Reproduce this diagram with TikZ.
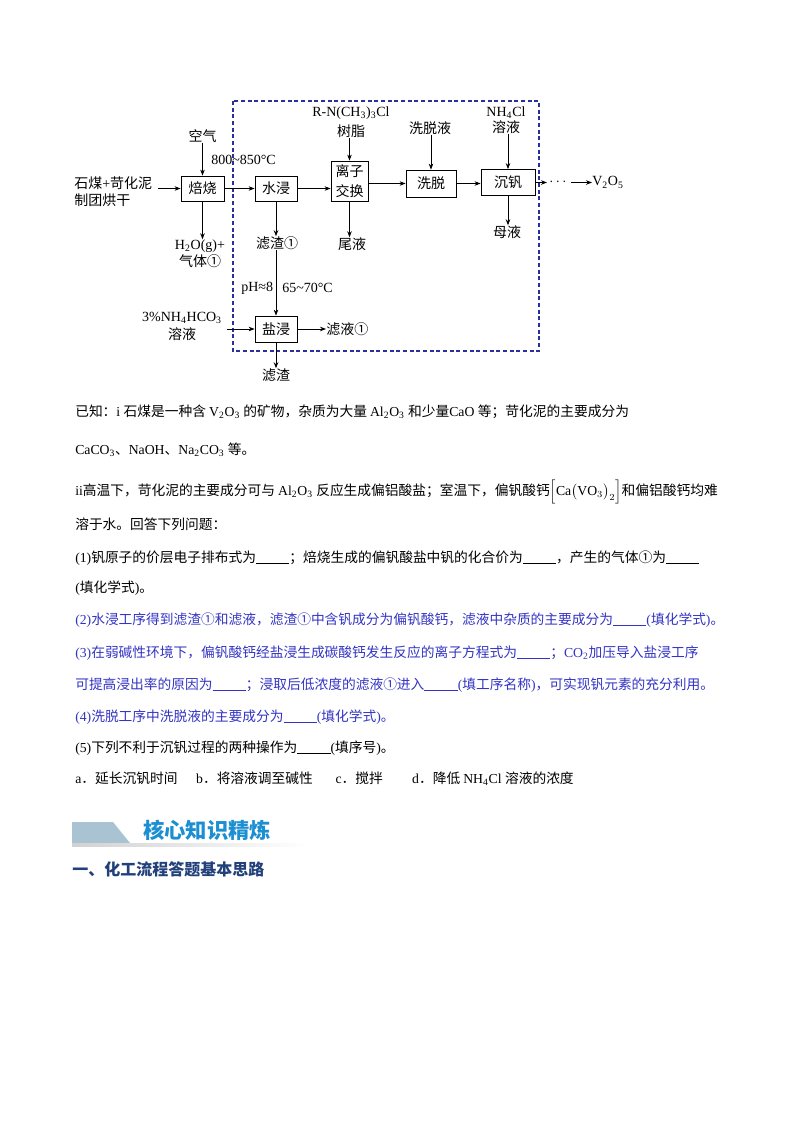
\documentclass[tikz,border=0pt]{standalone}
\usepackage{fontspec}
\setmainfont{Liberation Serif}
\setmathrm{Liberation Serif}
\newfontfamily\zhfont{Noto Sans CJK SC}
\usetikzlibrary{arrows.meta}
% automatic switch to the CJK font for CJK characters
\XeTeXinterchartokenstate=1
\newXeTeXintercharclass\zhcls
\newcount\zhc
\def\setzh#1#2{\zhc=#1\relax
  \loop
    \XeTeXcharclass\zhc=\zhcls
  \ifnum\zhc<#2\relax
    \advance\zhc by 1\relax
  \repeat}
\setzh{"3000}{"303F}
\setzh{"4E00}{"9FFF}
\setzh{"FF00}{"FFEF}
\setzh{"2460}{"24FF}
\XeTeXinterchartoks 0 \zhcls = {\zhfont}
\XeTeXinterchartoks 4095 \zhcls = {\zhfont}
\XeTeXinterchartoks \zhcls 0 = {\rmfamily}
\XeTeXinterchartoks 4095 0 = {\rmfamily}
\definecolor{dashblue}{HTML}{2A2F9C}
\definecolor{qblue}{HTML}{3434C4}
\definecolor{titleblue}{HTML}{1C8FD3}
\definecolor{navyt}{HTML}{22407A}
\definecolor{hdrgray}{HTML}{A9C3D3}
\newcommand\dg{\fontsize{10.5}{12.75}\selectfont}
\newcommand\bd{\fontsize{10.3}{12.4}\selectfont}
\newcommand\blk{\rule[-1.5pt]{25pt}{0.5pt}}
\tikzset{
  box/.style={draw, line width=0.6pt, inner sep=0pt, font=\dg, align=center},
  lbl/.style={inner sep=0pt, font=\dg, align=center},
  arr/.style={line width=0.6pt, -{Stealth[length=4.5pt,width=3.4pt]}},
  dashbox/.style={draw=dashblue, line width=0.9pt, dash pattern=on 3pt off 2pt},
  txt/.style={anchor=base west, inner sep=0pt, font=\bd},
}
\begin{document}
\begin{tikzpicture}[x=0.75pt,y=-0.75pt]
\useasboundingbox[fill=white] (0,0) rectangle (794,1122);

% ---------- flow diagram ----------
\draw[dashbox] (233,101) rectangle (539,351);

\node[lbl, align=left, anchor=west] (raw) at (74,191.5) {石煤+苛化泥\\制团烘干};
\node[box, minimum width=32.25pt, minimum height=18.75pt] (bs) at (202.5,188.5) {焙烧};
\node[lbl] (air) at (202.5,136) {空气};
\node[lbl, anchor=west] (t1) at (211,160) {800\textasciitilde850°C};
\node[lbl] (gas) at (200,253.5) {H\textsubscript{2}O(g)+\\气体①};
\draw[arr] ([xshift=4pt]raw.east |- bs.west) -- (bs.west);
\draw[arr] (air.south -| bs.north) -- (bs.north);
\draw[arr] (bs.south) -- (bs.south |- gas.north);

\node[box, minimum width=31.5pt, minimum height=18.75pt] (sj) at (276,188.5) {水浸};
\node[lbl] (zz1) at (277,243) {滤渣①};
\draw[arr] (bs.east) -- (sj.west);
\draw[arr] (sj.south) -- (sj.south |- zz1.north);

\node[box, minimum width=27.75pt, minimum height=30pt, font=\fontsize{10.5}{15}\selectfont] (lz) at (349.5,181) {离子\\交换};
\node[lbl, font=\fontsize{10.5}{15}\selectfont] (resin) at (351,122) {R-N(CH\textsubscript{3})\textsubscript{3}Cl\\树脂};
\node[lbl] (wy) at (352,244) {尾液};
\draw[arr] (sj.east) -- (sj.east -| lz.west);
\draw[arr] (resin.south -| lz.north) -- (lz.north);
\draw[arr] (lz.south) -- (lz.south |- wy.north);

\node[box, minimum width=37.5pt, minimum height=20.25pt] (xt) at (431,183.5) {洗脱};
\node[lbl] (xtl) at (430,128) {洗脱液};
\draw[arr] (lz.east |- xt.west) -- (xt.west);
\draw[arr] (xtl.south -| xt.north) -- (xt.north);

\node[box, minimum width=40.5pt, minimum height=19.5pt] (cf) at (508,182.5) {沉钒};
\node[lbl, font=\fontsize{10.5}{12}\selectfont] (nh4) at (506,120) {NH\textsubscript{4}Cl\\溶液};
\node[lbl] (my) at (507,232) {母液};
\draw[arr] (xt.east) -- (xt.east -| cf.west);
\draw[arr] (nh4.south -| cf.north) -- (cf.north);
\draw[arr] (cf.south) -- (cf.south |- my.north);

\coordinate (d1) at (547,182.5);
\node[lbl] (dots) at (558,182.5) {$\cdots$};
\node[lbl, anchor=west] (v2o5) at (592,182.5) {V\textsubscript{2}O\textsubscript{5}};
\draw[arr] (cf.east) -- (d1);
\draw[arr] ([xshift=3pt]dots.east) -- (v2o5.west);

\node[box, minimum width=31.5pt, minimum height=19.5pt] (yj) at (276,329) {盐浸};
\node[lbl, anchor=west] (ph) at (241,288) {pH≈8};
\node[lbl, anchor=west] (t2) at (282,288) {65\textasciitilde70°C};
\node[lbl, font=\fontsize{10.5}{13.5}\selectfont] (nhc) at (182,326) {3\%NH\textsubscript{4}HCO\textsubscript{3}\\溶液};
\node[lbl, anchor=west] (ly1) at (326,329) {滤液①};
\node[lbl] (zz2) at (276,375) {滤渣};
\draw[arr] (zz1.south -| yj.north) -- (yj.north);
\draw[arr] ([xshift=4pt]nhc.east |- yj.west) -- (yj.west);
\draw[arr] (yj.east) -- (ly1.west);
\draw[arr] (yj.south) -- (yj.south |- zz2.north);

% ---------- question text ----------
\node[txt] (l1) at (75,416) {已知：i 石煤是一种含 V\textsubscript{2}O\textsubscript{3} 的矿物，杂质为大量 Al\textsubscript{2}O\textsubscript{3} 和少量CaO 等；苛化泥的主要成分为};
\node[txt] (l2) at (75,454) {CaCO\textsubscript{3}、NaOH、Na\textsubscript{2}CO\textsubscript{3} 等。};
\node[txt] (l3) at (75,495) {ii高温下，苛化泥的主要成分可与 Al\textsubscript{2}O\textsubscript{3} 反应生成偏铝酸盐；室温下，偏钒酸钙$\Bigl[\mathrm{Ca}\bigl(\mathrm{VO}_{3}\bigr)_{2}\Bigr]$和偏铝酸钙均难};
\node[txt] (l4) at (75,529) {溶于水。回答下列问题：};
\node[txt] (l5) at (75,562) {(1)钒原子的价层电子排布式为\blk；焙烧生成的偏钒酸盐中钒的化合价为\blk，产生的气体①为\blk};
\node[txt] (l6) at (75,592) {(填化学式)。};
\node[txt, text=qblue] (l7) at (75,624) {(2)水浸工序得到滤渣①和滤液，滤渣①中含钒成分为偏钒酸钙，滤液中杂质的主要成分为\blk(填化学式)。};
\node[txt, text=qblue] (l8) at (75,657) {(3)在弱碱性环境下，偏钒酸钙经盐浸生成碳酸钙发生反应的离子方程式为\blk；CO\textsubscript{2}加压导入盐浸工序};
\node[txt, text=qblue] (l9) at (75,689) {可提高浸出率的原因为\blk；浸取后低浓度的滤液①进入\blk(填工序名称)，可实现钒元素的充分利用。};
\node[txt, text=qblue] (l10) at (75,721) {(4)洗脱工序中洗脱液的主要成分为\blk(填化学式)。};
\node[txt] (l11) at (75,752) {(5)下列不利于沉钒过程的两种操作为\blk(填序号)。};
\node[txt] (l12) at (75,783) {a．延长沉钒时间\hspace{14pt}b．将溶液调至碱性\hspace{17pt}c．搅拌\hspace{22pt}d．降低 NH\textsubscript{4}Cl 溶液的浓度};

% ---------- section header ----------
\fill[hdrgray] (72,822) -- (113,822) -- (130,843) -- (72,843) -- cycle;
\shade[left color=black!18, right color=white] (72,843) rectangle (308,846);
\node[anchor=west, inner sep=0pt, font=\fontsize{16}{16}\selectfont\bfseries, text=titleblue] (ttl) at (143,830) {核心知识精炼};
\node[anchor=west, inner sep=0pt, font=\fontsize{12}{12}\selectfont\bfseries, text=navyt] (sec) at (72,869) {一、化工流程答题基本思路};
\end{tikzpicture}
\end{document}
